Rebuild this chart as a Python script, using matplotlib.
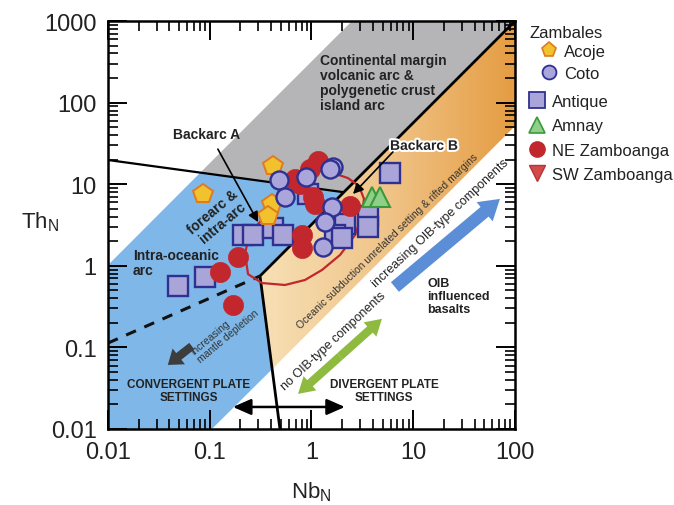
import numpy as np
import matplotlib
matplotlib.use('Agg')
import matplotlib.pyplot as plt
import matplotlib.ticker as mticker
import matplotlib.patheffects as pe
from matplotlib.patches import Polygon, FancyArrowPatch
from matplotlib.colors import LinearSegmentedColormap
from matplotlib.lines import Line2D

plt.rcParams['font.family'] = ['Liberation Sans', 'DejaVu Sans']

# samples, (Nb_N, Th_N)
acoje_nb = [0.086, 0.42, 0.41, 0.37]
acoje_th = [7.6, 16.7, 5.7, 4.1]

coto_nb = [0.48, 0.55, 0.88, 1.63, 1.52, 1.59, 1.36, 1.30]
coto_th = [11.2, 7.0, 12.3, 16.2, 15.3, 5.3, 3.4, 1.7]

antique_nb = [0.212, 0.266, 0.42, 0.525, 0.925, 2.13, 3.59, 3.59, 5.9, 1.70, 2.0, 0.0897, 0.0488]
antique_th = [2.38, 2.38, 2.9, 2.38, 7.6, 3.25, 4.07, 3.0, 13.7, 2.38, 2.19, 0.73, 0.565]

amnay_nb = [3.93, 4.71]
amnay_th = [7.0, 7.0]

nez_nb = [1.16, 0.966, 0.77, 0.69, 1.035, 1.08, 2.39, 0.81, 0.81, 0.19, 0.126, 0.17]
nez_th = [19.2, 15.3, 10.0, 11.6, 7.0, 5.7, 5.4, 2.38, 1.65, 1.28, 0.84, 0.33]

swz_nb = []
swz_th = []

# field boundaries of the discrimination diagram
gray_nb = [2.5, 100, 2.04, 0.081]
gray_th = [1000, 1000, 8.0, 13.9]
blue_nb = [0.01, 0.081, 2.04, 0.312, 0.41, 0.105, 0.01]
blue_th = [1.02, 13.9, 8.0, 0.75, 0.054, 0.01, 0.01]
orange_nb = [100, 100, 0.41, 0.312]
orange_th = [1000, 51.7, 0.054, 0.75]

main_nb = [100, 0.312, 0.49]
main_th = [1000, 0.75, 0.01]
arc_nb = [0.01, 2.04]
arc_th = [19.8, 8.0]
dash_nb = [0.01, 0.312]
dash_th = [0.113, 0.75]

# NE Zamboanga envelope
env_nb = [0.249, 0.222, 0.238, 0.326, 0.549, 0.863, 1.27, 1.91, 2.68, 3.13, 3.28,
          2.93, 2.28, 1.63, 1.16, 0.82, 0.64, 0.525, 0.373, 0.279, 0.249]
env_th = [2.67, 1.40, 0.79, 0.615, 0.582, 0.67, 0.89, 1.36, 2.38, 4.2, 6.6,
          9.5, 11.9, 13.7, 16.3, 14.5, 10.6, 7.0, 4.3, 3.0, 2.67]

fig = plt.figure(figsize=(6.74, 5.06), dpi=100)
ax = fig.add_axes([0.1602, 0.1502, 0.6039, 0.8063])
ax.set_xscale('log')
ax.set_yscale('log')
ax.set_xlim(0.01, 100)
ax.set_ylim(0.01, 1000)

ax.fill(gray_nb, gray_th, color='#b5b5b7', lw=0, zorder=0)
ax.fill(blue_nb, blue_th, color='#7eb7e8', lw=0, zorder=0)

# orange field with a left-to-right gradient
orange_patch = Polygon(np.column_stack([orange_nb, orange_th]), closed=True,
                       transform=ax.transData, facecolor='none', edgecolor='none')
ax.add_patch(orange_patch)
cm = LinearSegmentedColormap.from_list('og', ['#f7e0b6', '#f0c488', '#e59c42'])
grad = np.linspace(0, 1, 256).reshape(1, -1)
im = ax.imshow(grad, extent=[0.37, 1, 0, 1], transform=ax.transAxes,
               aspect='auto', cmap=cm, zorder=0, interpolation='bilinear')
im.set_clip_path(orange_patch)

ax.plot(main_nb, main_th, color='black', lw=2.0, zorder=1)
ax.plot(arc_nb, arc_th, color='black', lw=1.6, zorder=1)
ax.plot(dash_nb, dash_th, color='#111111', lw=2.2, ls=(0, (3.5, 3)), zorder=1)
ax.plot(env_nb, env_th, color='#c1272d', lw=1.6, zorder=2)

ax.set_xlim(0.01, 100)
ax.set_ylim(0.01, 1000)

# samples
ax.plot(antique_nb, antique_th, 's', ms=14, mfc='#a9a5d8', mec='#2e3192', mew=1.7, zorder=3)
ax.plot(amnay_nb, amnay_th, '^', ms=14, mfc='#8fcf8a', mec='#3a9a3a', mew=1.5, zorder=3)
ax.plot(acoje_nb, acoje_th, 'p', ms=15, mfc='#f2c12e', mec='#e07b1f', mew=1.4, zorder=3)
ax.plot(nez_nb, nez_th, 'o', ms=14.5, mfc='#c1272d', mec='#c1272d', mew=0.5, zorder=3)
ax.plot(coto_nb, coto_th, 'o', ms=13, mfc='#aaa6dc', mec='#2e3192', mew=1.7, zorder=4)
ax.plot(swz_nb, swz_th, 'v', ms=12, mfc='#d24a4a', mec='#b83333', zorder=3)

# labels inside the diagram
tc = '#222222'
ax.text(0.521, 0.849, 'Continental margin\nvolcanic arc &\npolygenetic crust\nisland arc',
        transform=ax.transAxes, fontsize=10, fontweight='bold', color=tc,
        ha='left', va='center', linespacing=1.1, zorder=5)
ax.text(0.241, 0.723, 'Backarc A', transform=ax.transAxes, fontsize=10,
        fontweight='bold', color=tc, ha='center', va='center', zorder=5)
ax.text(0.776, 0.694, 'Backarc B', transform=ax.transAxes, fontsize=10,
        fontweight='bold', color=tc, ha='center', va='center', zorder=5,
        path_effects=[pe.withStroke(linewidth=3, foreground='white')])
ax.text(0.270, 0.520, 'forearc &\nintra-arc', transform=ax.transAxes, fontsize=10,
        fontweight='bold', color=tc, ha='center', va='center', rotation=40,
        linespacing=1.1, zorder=5)
ax.text(0.061, 0.408, 'Intra-oceanic\narc', transform=ax.transAxes, fontsize=10,
        fontweight='bold', color=tc, ha='left', va='center', linespacing=1.15, zorder=5)
ax.text(0.687, 0.463, 'Oceanic subduction unrelated setting & rifted margins',
        transform=ax.transAxes, fontsize=7.5, color='#333333', ha='center',
        va='center', rotation=44, zorder=5)
ax.text(0.816, 0.505, 'increasing OIB-type components', transform=ax.transAxes,
        fontsize=9, color=tc, ha='center', va='center', rotation=43, zorder=5)
ax.text(0.555, 0.218, 'no OIB-type components', transform=ax.transAxes,
        fontsize=9, color=tc, ha='center', va='center', rotation=43, zorder=5)
ax.text(0.784, 0.326, 'OIB\ninfluenced\nbasalts', transform=ax.transAxes, fontsize=9,
        fontweight='bold', color=tc, ha='left', va='center', linespacing=1.1, zorder=5)
ax.text(0.287, 0.238, 'increasing\nmantle depletion', transform=ax.transAxes,
        fontsize=7.5, color='#333333', ha='center', va='center', rotation=40,
        multialignment='left', linespacing=1.0, zorder=5)
ax.text(0.199, 0.094, 'CONVERGENT PLATE\nSETTINGS', transform=ax.transAxes,
        fontsize=8.5, fontweight='bold', color=tc, ha='center', va='center',
        linespacing=1.15, zorder=5)
ax.text(0.678, 0.094, 'DIVERGENT PLATE\nSETTINGS', transform=ax.transAxes,
        fontsize=8.5, fontweight='bold', color=tc, ha='center', va='center',
        linespacing=1.15, zorder=5)

# arrows
ax.annotate('', xy=(0.369, 0.507), xytext=(0.270, 0.686), xycoords='axes fraction',
            arrowprops=dict(arrowstyle='-|>,head_length=0.5,head_width=0.25', lw=1.2,
                            color='black', mutation_scale=12, shrinkA=0, shrinkB=0), zorder=5)
ax.annotate('', xy=(0.602, 0.576), xytext=(0.700, 0.679), xycoords='axes fraction',
            arrowprops=dict(arrowstyle='-|>,head_length=0.5,head_width=0.25', lw=1.2,
                            color='black', mutation_scale=12, shrinkA=0, shrinkB=0), zorder=5)
ax.annotate('', xy=(0.582, 0.054), xytext=(0.307, 0.054), xycoords='axes fraction',
            arrowprops=dict(arrowstyle='<|-|>,head_length=0.5,head_width=0.22', lw=1.8,
                            color='black', mutation_scale=22, shrinkA=0, shrinkB=0), zorder=5)

green_mid = (0.570, 0.178)
for end in [(0.467, 0.086), (0.673, 0.270)]:
    ax.add_patch(FancyArrowPatch(green_mid, end, transform=ax.transAxes,
                                 arrowstyle='simple,head_length=0.46,head_width=0.55,tail_width=0.24',
                                 mutation_scale=25, color='#8dba3f', lw=0, zorder=5,
                                 shrinkA=0, shrinkB=0))
ax.add_patch(FancyArrowPatch((0.705, 0.348), (0.963, 0.564), transform=ax.transAxes,
                             arrowstyle='simple,head_length=0.48,head_width=0.6,tail_width=0.3',
                             mutation_scale=30, color='#5b8ed6', lw=0, zorder=5,
                             shrinkA=0, shrinkB=0))
ax.add_patch(FancyArrowPatch((0.206, 0.203), (0.147, 0.157), transform=ax.transAxes,
                             arrowstyle='simple,head_length=0.5,head_width=0.72,tail_width=0.3',
                             mutation_scale=20, color='#3d3d3d', lw=0, zorder=5,
                             shrinkA=0, shrinkB=0))

# axes styling
for s in ax.spines.values():
    s.set_linewidth(1.8)
ax.tick_params(which='both', direction='in', top=True, right=True, colors='black',
               labelcolor='#222222', labelsize=17)
ax.tick_params(axis='x', pad=9)
ax.tick_params(axis='y', pad=8)
ax.tick_params(which='major', length=14, width=1.4)
ax.tick_params(which='minor', length=7, width=1.2)
fmt = mticker.FuncFormatter(lambda v, _: f'{v:g}')
ax.xaxis.set_major_formatter(fmt)
ax.yaxis.set_major_formatter(fmt)
ax.set_xticks([0.01, 0.1, 1, 10, 100])
ax.set_yticks([0.01, 0.1, 1, 10, 100, 1000])

ax.set_xlabel(r'Nb$_\mathregular{N}$', fontsize=16, color='#222222', va='center')
ax.set_ylabel(r'Th$_\mathregular{N}$', fontsize=16, color='#222222', rotation=0,
              ha='center', va='center')
ax.xaxis.set_label_coords(0.499, -0.152)
ax.yaxis.set_label_coords(-0.167, 0.51)

# legend
fig.text(530 / 674, 1 - 33 / 506, 'Zambales', fontsize=12, color='#222222',
         ha='left', va='center')
h_acoje = Line2D([], [], ls='none', marker='p', ms=11, mfc='#f2c12e', mec='#e07b1f', mew=1.2)
h_coto = Line2D([], [], ls='none', marker='o', ms=10, mfc='#aaa6dc', mec='#2e3192', mew=1.3)
h_antique = Line2D([], [], ls='none', marker='s', ms=11, mfc='#a9a5d8', mec='#2e3192', mew=1.3)
h_amnay = Line2D([], [], ls='none', marker='^', ms=11, mfc='#8fcf8a', mec='#3a9a3a', mew=1.2)
h_nez = Line2D([], [], ls='none', marker='o', ms=11, mfc='#c1272d', mec='#c1272d')
h_swz = Line2D([], [], ls='none', marker='v', ms=11, mfc='#d24a4a', mec='#b83333')

leg1 = fig.legend(handles=[h_acoje, h_coto], labels=['Acoje', 'Coto'],
                  loc='upper left', bbox_to_anchor=(540.7 / 674, 1 - 45 / 506),
                  frameon=False, fontsize=12, handlelength=1.0, handletextpad=0.4,
                  labelspacing=0.42, borderpad=0, borderaxespad=0, labelcolor='#222222')
leg2 = fig.legend(handles=[h_antique, h_amnay, h_nez, h_swz],
                  labels=['Antique', 'Amnay', 'NE Zamboanga', 'SW Zamboanga'],
                  loc='upper left', bbox_to_anchor=(528.7 / 674, 1 - 95 / 506),
                  frameon=False, fontsize=12, handlelength=1.0, handletextpad=0.4,
                  labelspacing=0.56, borderpad=0, borderaxespad=0, labelcolor='#222222')

fig.savefig('out.png', dpi=100)
